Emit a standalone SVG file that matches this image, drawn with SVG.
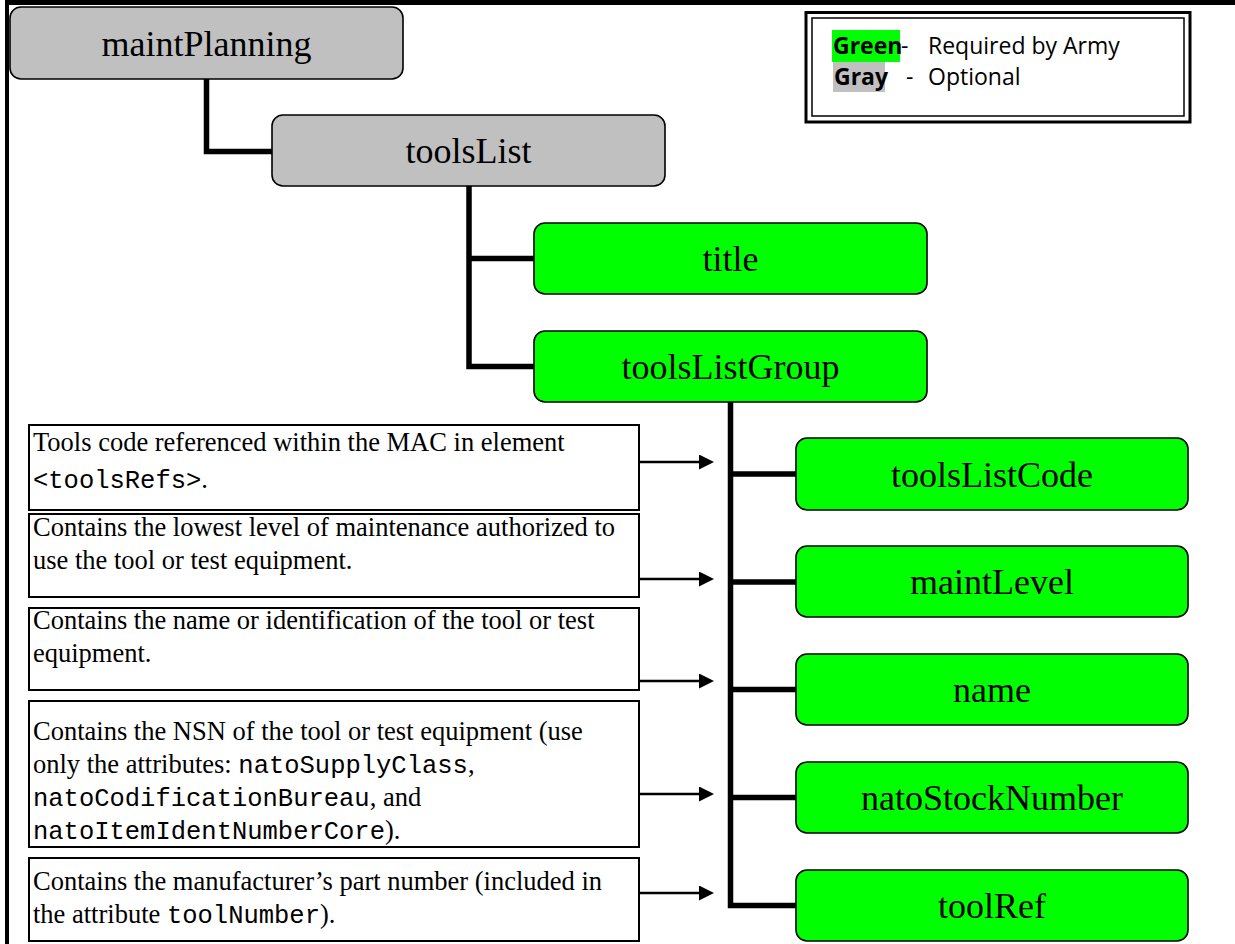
<svg xmlns="http://www.w3.org/2000/svg" width="1235" height="944" viewBox="0 0 1235 944">
  <style>
    .node rect { stroke: #000; stroke-width: 1.6; }
    .opt rect { fill: #C0C0C0; }
    .req rect { fill: #00FF00; }
    .node text { font-family: "Liberation Serif", "Times New Roman", serif; font-size: 36px; text-anchor: middle; fill: #000; }
    .tree { fill: none; stroke: #000; stroke-width: 5.5; stroke-linejoin: miter; stroke-linecap: butt; }
    .arrow { fill: none; stroke: #000; stroke-width: 2.5; marker-end: url(#head); }
    .desc rect { fill: #fff; stroke: #000; stroke-width: 2; }
    .desc text { font-family: "Liberation Serif", "Times New Roman", serif; font-size: 26.5px; fill: #000; }
    .mono { font-family: "Liberation Mono", "Courier New", monospace; font-size: 25.5px; }
    .legend text { font-family: "Open Sans", "Noto Sans", sans-serif; font-size: 23px; fill: #000; }
    .legend .b { font-weight: bold; }
  </style>
  <defs>
    <marker id="head" viewBox="0 0 15 15" refX="3" refY="7.5" markerWidth="15" markerHeight="15" markerUnits="userSpaceOnUse" orient="auto">
      <path d="M0,0 L15,7.5 L0,15 Z" fill="#000"/>
    </marker>
  </defs>

  <rect width="1235" height="944" fill="#fff"/>

  <!-- page frame: top and left rules -->
  <g id="frame" fill="#000">
    <rect x="5" y="0" width="1230" height="5"/>
    <rect x="5" y="0" width="4" height="944"/>
  </g>

  <!-- legend -->
  <g id="legend" class="legend">
    <rect x="806" y="12.5" width="384" height="109.5" fill="#fff" stroke="#000" stroke-width="3"/>
    <rect x="812" y="18" width="372" height="98" fill="none" stroke="#000" stroke-width="1.5"/>
    <rect x="832" y="30" width="68" height="32" fill="#00FF00"/>
    <rect x="833" y="62" width="52" height="30" fill="#C0C0C0"/>
    <text x="833" y="54" class="b">Green</text>
    <text x="901" y="54">-</text>
    <text x="928" y="54">Required by Army</text>
    <text x="834" y="85" class="b">Gray</text>
    <text x="906" y="85">-</text>
    <text x="928" y="85">Optional</text>
  </g>

  <!-- tree connectors and description arrows -->
  <g id="connectors">
    <path class="tree" d="M206.5,79 V151.5 H272"/>
    <path class="tree" d="M469,186 V366.5 H534 M469,258.5 H534"/>
    <path class="tree" d="M730.5,402 V905.5 H796 M730.5,474 H796 M730.5,582 H796 M730.5,689.5 H796 M730.5,797.5 H796"/>
    <line class="arrow" x1="639" y1="462" x2="702" y2="462"/>
    <line class="arrow" x1="639" y1="579" x2="702" y2="579"/>
    <line class="arrow" x1="639" y1="681" x2="702" y2="681"/>
    <line class="arrow" x1="639" y1="794" x2="702" y2="794"/>
    <line class="arrow" x1="639" y1="893" x2="702" y2="893"/>
  </g>

  <!-- element nodes -->
  <g id="maintPlanning" class="node opt">
    <rect x="10" y="7" width="393" height="72" rx="11"/>
    <text x="206.5" y="55.5">maintPlanning</text>
  </g>
  <g id="toolsList" class="node opt">
    <rect x="272" y="115" width="393" height="71" rx="11"/>
    <text x="468.5" y="163">toolsList</text>
  </g>
  <g id="title" class="node req">
    <rect x="534" y="223" width="393" height="71" rx="11"/>
    <text x="730.5" y="271">title</text>
  </g>
  <g id="toolsListGroup" class="node req">
    <rect x="534" y="331" width="393" height="71" rx="11"/>
    <text x="730.5" y="379">toolsListGroup</text>
  </g>
  <g id="toolsListCode" class="node req">
    <rect x="796" y="438" width="392" height="72" rx="11"/>
    <text x="992" y="486.5">toolsListCode</text>
  </g>
  <g id="maintLevel" class="node req">
    <rect x="796" y="546" width="392" height="71" rx="11"/>
    <text x="992" y="594">maintLevel</text>
  </g>
  <g id="name" class="node req">
    <rect x="796" y="654" width="392" height="71" rx="11"/>
    <text x="992" y="702">name</text>
  </g>
  <g id="natoStockNumber" class="node req">
    <rect x="796" y="762" width="392" height="71" rx="11"/>
    <text x="992" y="810">natoStockNumber</text>
  </g>
  <g id="toolRef" class="node req">
    <rect x="796" y="870" width="392" height="71" rx="11"/>
    <text x="992" y="918">toolRef</text>
  </g>

  <!-- description boxes -->
  <g id="desc-toolsListCode" class="desc">
    <rect x="29" y="425" width="610" height="85"/>
    <text x="33" y="451">Tools code referenced within the MAC in element</text>
    <text x="33" y="488"><tspan class="mono">&lt;toolsRefs&gt;</tspan>.</text>
  </g>
  <g id="desc-maintLevel" class="desc">
    <rect x="29" y="514" width="610" height="83"/>
    <text x="33" y="536">Contains the lowest level of maintenance authorized to</text>
    <text x="33" y="569">use the tool or test equipment.</text>
  </g>
  <g id="desc-name" class="desc">
    <rect x="29" y="608" width="610" height="82"/>
    <text x="33" y="629">Contains the name or identification of the tool or test</text>
    <text x="33" y="662">equipment.</text>
  </g>
  <g id="desc-natoStockNumber" class="desc">
    <rect x="29" y="701" width="610" height="146"/>
    <text x="33" y="740">Contains the NSN of the tool or test equipment (use</text>
    <text x="33" y="773">only the attributes: <tspan class="mono">natoSupplyClass</tspan>,</text>
    <text x="33" y="806"><tspan class="mono">natoCodificationBureau</tspan>, and</text>
    <text x="33" y="839"><tspan class="mono">natoItemIdentNumberCore</tspan>).</text>
  </g>
  <g id="desc-toolRef" class="desc">
    <rect x="29" y="858" width="610" height="83"/>
    <text x="33" y="890">Contains the manufacturer’s part number (included in</text>
    <text x="33" y="923">the attribute <tspan class="mono">toolNumber</tspan>).</text>
  </g>
</svg>
